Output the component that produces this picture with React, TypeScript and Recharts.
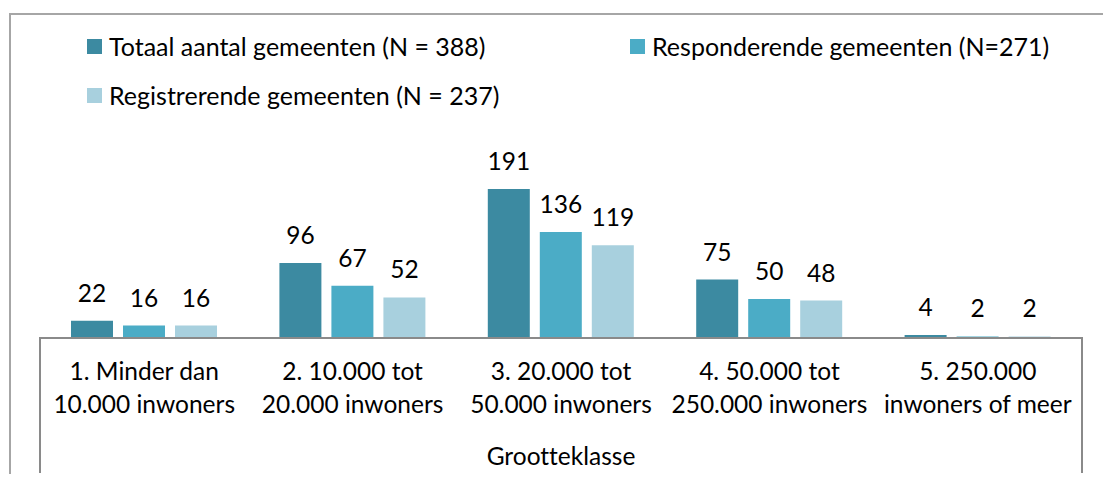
import React from 'react';
import { BarChart, Bar, XAxis, YAxis, LabelList, usePlotArea } from 'recharts';

const categories = [
  '1. Minder dan 10.000 inwoners',
  '2. 10.000 tot 20.000 inwoners',
  '3. 20.000 tot 50.000 inwoners',
  '4. 50.000 tot 250.000 inwoners',
  '5. 250.000 inwoners of meer',
];
// how the tick labels wrap, same order as categories
const tickLines = [
  ['1. Minder dan', '10.000 inwoners'],
  ['2. 10.000 tot', '20.000 inwoners'],
  ['3. 20.000 tot', '50.000 inwoners'],
  ['4. 50.000 tot', '250.000 inwoners'],
  ['5. 250.000', 'inwoners of meer'],
];
const totaal = [22, 96, 191, 75, 4];
const responderend = [16, 67, 136, 50, 2];
const registrerend = [16, 52, 119, 48, 2];

const series = [
  { key: 'totaal', name: 'Totaal aantal gemeenten (N = 388)', color: '#3C8AA1' },
  { key: 'responderend', name: 'Responderende gemeenten (N=271)', color: '#4BACC6' },
  { key: 'registrerend', name: 'Registrerende gemeenten (N = 237)', color: '#A8D0DE' },
];

const data = categories.map((c, i) => ({
  name: c,
  totaal: totaal[i],
  responderend: responderend[i],
  registrerend: registrerend[i],
}));

const FONT = 'Lato, "Open Sans", sans-serif';
const FS = 24.5;
const AXIS_GRAY = '#8a8a8a';
const noLig = { fontVariantLigatures: 'none' } as React.CSSProperties;

const CategoryTick = (props: any) => {
  const { x, y, index } = props;
  const lines = tickLines[index] || [];
  return (
    <text x={x} textAnchor="middle" fontFamily={FONT} fontSize={FS} fill="#000" style={noLig}>
      {lines.map((l, i) => (
        <tspan key={i} x={x} y={y + 42 + i * 33}>{l}</tspan>
      ))}
    </text>
  );
};

// vertical lines that close the category axis box (Excel style)
const AxisFrame = () => {
  const area = usePlotArea();
  if (!area) return null;
  const bottom = area.y + area.height;
  return (
    <g>
      <line x1={area.x} x2={area.x} y1={bottom - 1} y2={bottom + 135} stroke={AXIS_GRAY} strokeWidth={2} />
      <line x1={area.x + area.width} x2={area.x + area.width} y1={bottom - 1} y2={bottom + 135} stroke={AXIS_GRAY} strokeWidth={2} />
    </g>
  );
};

const Legend = () => {
  const pos = [
    { left: 87, top: 39 },
    { left: 630, top: 39 },
    { left: 87, top: 88 },
  ];
  return (
    <>
      {series.map((s, i) => (
        <div
          key={s.key}
          style={{
            position: 'absolute',
            left: pos[i].left,
            top: pos[i].top - 9,
            display: 'flex',
            alignItems: 'center',
            fontFamily: FONT,
            fontSize: 25,
            lineHeight: '33px',
            color: '#000',
            whiteSpace: 'nowrap',
            ...noLig,
          }}
        >
          <span style={{ width: 15, height: 15, background: s.color, marginRight: 7, display: 'inline-block' }} />
          {s.name}
        </div>
      ))}
    </>
  );
};

export default function App() {
  return (
    <div style={{ position: 'relative', width: 1111, height: 482, margin: -8, overflow: 'hidden', background: '#fff' }}>
      <div
        style={{
          position: 'absolute',
          left: 9,
          top: 13,
          width: 1102,
          height: 500,
          border: '2px solid #a6a6a6',
          boxSizing: 'border-box',
        }}
      />
      <Legend />
      <div style={{ position: 'absolute', left: 0, top: 0 }}>
        <BarChart
          width={1111}
          height={482}
          data={data}
          margin={{ top: 143, right: 29, bottom: 9, left: 40 }}
          barSize={42}
          barGap={10}
        >
          <XAxis
            dataKey="name"
            height={135}
            interval={0}
            tickLine={false}
            tickSize={0}
            tickMargin={0}
            axisLine={{ stroke: AXIS_GRAY, strokeWidth: 2 }}
            tick={<CategoryTick />}
            label={{ value: 'Grootteklasse', position: 'insideBottom', offset: 8, fontFamily: FONT, fontSize: FS, fill: '#000', style: noLig }}
          />
          <YAxis hide domain={[0, 250]} />
          {series.map((s) => (
            <Bar key={s.key} dataKey={s.key} name={s.name} fill={s.color} isAnimationActive={false}>
              <LabelList dataKey={s.key} position="top" offset={19} fontFamily={FONT} fontSize={FS} fill="#000" />
            </Bar>
          ))}
          <AxisFrame />
        </BarChart>
      </div>
    </div>
  );
}
